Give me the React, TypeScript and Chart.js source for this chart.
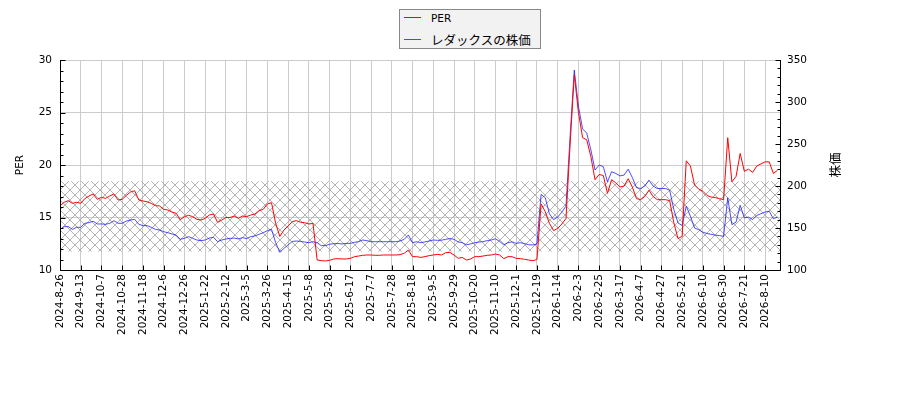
import { useEffect, useRef } from "react";
import { Chart, registerables, type Plugin } from "chart.js";

Chart.register(...registerables);

const LATIN = "'DejaVu Sans', sans-serif";
const CJK = "'Noto Sans CJK JP', 'DejaVu Sans', sans-serif";

// x tick labels, one every POINTS_PER_LABEL data points
const dateLabels = [
  "2024-8-26", "2024-9-13", "2024-10-7", "2024-10-28", "2024-11-18", "2024-12-6", "2024-12-26",
  "2025-1-22", "2025-2-12", "2025-3-5", "2025-3-26", "2025-4-15", "2025-5-8", "2025-5-28",
  "2025-6-17", "2025-7-7", "2025-7-28", "2025-8-18", "2025-9-5", "2025-9-29", "2025-10-20",
  "2025-11-10", "2025-12-1", "2025-12-19", "2026-1-14", "2026-2-3", "2026-2-25", "2026-3-17",
  "2026-4-7", "2026-4-27", "2026-5-21", "2026-6-10", "2026-6-30", "2026-7-21", "2026-8-10"
];
const POINTS_PER_LABEL = 5;

const perValues = [
  16.1, 16.45, 16.6, 16.35, 16.45, 16.35, 16.8, 17.05, 17.24, 16.73,
  16.92, 16.82, 17.05, 17.24, 16.67, 16.73, 17.11, 17.43, 17.55, 16.67,
  16.57, 16.5, 16.35, 16.13, 16.1, 15.78, 15.71, 15.52, 15.4, 14.8,
  15.08, 15.21, 15.08, 14.83, 14.76, 14.92, 15.24, 15.33, 14.54, 14.76,
  15.0, 15.0, 15.14, 14.92, 15.14, 15.08, 15.24, 15.33, 15.65, 15.78,
  16.29, 16.41, 14.44, 13.2, 13.81, 14.19, 14.6, 14.7, 14.55, 14.5,
  14.38, 14.44, 10.95, 10.89, 10.86, 10.92, 11.05, 11.08, 11.05, 11.05,
  11.11, 11.27, 11.33, 11.4, 11.43, 11.43, 11.4, 11.4, 11.43, 11.43,
  11.43, 11.43, 11.46, 11.59, 11.9, 11.27, 11.27, 11.2, 11.27, 11.37,
  11.43, 11.49, 11.43, 11.65, 11.68, 11.43, 11.11, 11.2, 10.95, 11.05,
  11.27, 11.27, 11.33, 11.4, 11.43, 11.52, 11.43, 11.08, 11.27, 11.27,
  11.11, 11.08, 11.02, 10.95, 10.89, 11.0, 16.3, 15.56, 14.44, 13.75,
  13.97, 14.38, 14.9, 22.0, 28.6, 25.0, 22.6, 22.4, 20.8, 18.6,
  19.1, 19.0, 17.3, 18.6, 18.3, 17.9, 18.0, 18.7, 17.9, 16.8,
  16.7, 17.0, 17.6, 17.0, 16.7, 16.7, 16.7, 16.6, 14.5, 13.0,
  13.2, 20.4, 19.9, 18.1, 17.7, 17.5, 17.1, 16.95, 16.9, 16.8,
  16.7, 22.6, 18.4, 18.9, 21.1, 19.4, 19.6, 19.3, 19.9, 20.1,
  20.3, 20.3, 19.2, 19.5
];

const priceValues = [
  148.4, 151.6, 151.6, 148.4, 150.8, 150.8, 155.6, 156.4, 158, 154.8,
  154.8, 154.4, 155.6, 158.7, 155.6, 155.6, 158.3, 159.5, 160.3, 154.4,
  152.8, 152.8, 150.8, 148.4, 147.6, 145.6, 144.4, 142.9, 141.6, 136.5,
  137.7, 139.7, 137.7, 135.7, 134.9, 135.7, 138, 139, 133.7, 135.7,
  136.9, 137.7, 138, 137, 138.5, 137.5, 139.7, 140.5, 142.5, 144.4,
  146.8, 148.4, 132.5, 121, 125.8, 129.8, 134, 134.5, 134, 133.3,
  132.5, 133.7, 132.5, 129, 129, 130.6, 131.3, 131.5, 131, 131.7,
  131.7, 132.9, 133.7, 135.7, 134.9, 133.7, 133.7, 133.7, 133.7, 133.7,
  133.7, 133.7, 134.5, 136.5, 141.7, 132.5, 133.7, 132.5, 133.5, 134.5,
  135.7, 135.3, 135.5, 136.5, 137.5, 136.5, 133.5, 132.5, 130, 131,
  132.5, 133.3, 133.7, 135, 135.7, 137.2, 134, 130, 132.5, 133.5,
  131.7, 132.5, 131.5, 130, 129.8, 131, 190, 186, 167, 160,
  163, 169, 176, 260, 338, 295, 268, 263, 243, 219,
  225, 223, 205, 217, 215, 212, 213, 220, 210, 198,
  197, 200, 207, 200, 197, 197, 197, 195, 172, 156,
  153, 176, 164, 150, 148, 145, 143.5, 142.5, 141.5, 141,
  140, 186, 154, 157, 177, 162, 163, 160, 165, 167,
  169, 170, 161, 163
];

// hatched PER band (low, high)
const perBand = [11.75, 18.45];

const series = [
  { label: "PER", values: perValues, axis: "yPer", color: "#ff0000", font: LATIN },
  { label: "レダックスの株価", values: priceValues, axis: "yPrice", color: "rgba(0,0,255,0.7)", font: CJK }
];

function hatchPattern() {
  const c = document.createElement("canvas");
  c.width = 10;
  c.height = 10;
  const g = c.getContext("2d")!;
  g.strokeStyle = "#a0a0a0";
  g.lineWidth = 0.8;
  g.beginPath();
  g.moveTo(-1, -1);
  g.lineTo(11, 11);
  g.moveTo(11, -1);
  g.lineTo(-1, 11);
  g.stroke();
  return g.createPattern(c, "repeat")!;
}

const hatchBand: Plugin = {
  id: "hatchBand",
  beforeDatasetsDraw(chart) {
    const { ctx, chartArea: a } = chart;
    const y = chart.scales.yPer;
    const top = y.getPixelForValue(perBand[1]);
    const bottom = y.getPixelForValue(perBand[0]);
    ctx.save();
    ctx.fillStyle = hatchPattern();
    ctx.fillRect(a.left, top, a.right - a.left, bottom - top);
    ctx.restore();
  }
};

const crisp = (v: number) => Math.round(v) + 0.5;

const frame: Plugin = {
  id: "frame",
  afterDatasetsDraw(chart) {
    const { ctx, chartArea: a, scales } = chart;
    const x = scales.x;
    const yl = scales.yPer;
    const yr = scales.yPrice;
    const L = crisp(a.left);
    const R = crisp(a.right);
    const B = crisp(a.bottom);
    ctx.save();
    ctx.strokeStyle = "#000";
    ctx.lineWidth = 1;
    ctx.beginPath();
    ctx.moveTo(L, a.top);
    ctx.lineTo(L, B);
    ctx.lineTo(R, B);
    ctx.lineTo(R, a.top);
    x.ticks.forEach((t) => {
      const px = crisp(x.getPixelForValue(t.value));
      ctx.moveTo(px, B);
      ctx.lineTo(px, B - 5);
    });
    for (let v = yl.min; v <= yl.max; v += 1) {
      const py = crisp(yl.getPixelForValue(v));
      ctx.moveTo(L, py);
      ctx.lineTo(L + (v % 5 === 0 ? 5 : 3), py);
    }
    for (let v = yr.min; v <= yr.max; v += 10) {
      const py = crisp(yr.getPixelForValue(v));
      ctx.moveTo(R, py);
      ctx.lineTo(R - (v % 50 === 0 ? 5 : 3), py);
    }
    ctx.stroke();

    // right axis title, rotated counter-clockwise like the left one
    ctx.translate(a.right + 55, (a.top + a.bottom) / 2);
    ctx.rotate(-Math.PI / 2);
    ctx.font = `12.5px ${CJK}`;
    ctx.fillStyle = "#000";
    ctx.textAlign = "center";
    ctx.textBaseline = "middle";
    ctx.fillText("株価", 0, 0);
    ctx.restore();
  }
};

export default function App() {
  const ref = useRef<HTMLCanvasElement | null>(null);

  useEffect(() => {
    if (!ref.current) return;
    const tickFont = { family: LATIN, size: 10.5 };
    const chart = new Chart(ref.current, {
      type: "line",
      data: {
        datasets: series.map((s, k) => ({
          label: s.label,
          data: s.values.map((v, i) => ({ x: i, y: v })),
          yAxisID: s.axis,
          borderColor: s.color,
          backgroundColor: s.color,
          borderWidth: 1,
          pointRadius: 0,
          tension: 0,
          order: k
        }))
      },
      options: {
        responsive: false,
        animation: false,
        events: [],
        layout: { padding: { top: 60, left: 0, right: 0, bottom: 0 } },
        plugins: { legend: { display: false }, tooltip: { enabled: false } },
        scales: {
          x: {
            type: "linear",
            min: 0,
            max: 173.6,
            afterBuildTicks: (axis) => {
              axis.ticks = dateLabels.map((_, k) => ({ value: k * POINTS_PER_LABEL }));
            },
            afterFit: (axis) => {
              axis.height = 130;
            },
            ticks: {
              autoSkip: false,
              minRotation: 90,
              maxRotation: 90,
              padding: 4,
              color: "#000",
              font: tickFont,
              callback: (v) => dateLabels[Math.round(Number(v) / POINTS_PER_LABEL)] ?? ""
            },
            grid: { color: "#cccccc", lineWidth: 1, drawTicks: false },
            border: { display: false }
          },
          yPer: {
            type: "linear",
            position: "left",
            min: 10,
            max: 30,
            afterFit: (axis) => {
              axis.width = 60;
            },
            ticks: { stepSize: 5, padding: 8, color: "#000", font: tickFont },
            grid: { color: "#cccccc", lineWidth: 1, drawTicks: false },
            border: { display: false },
            title: {
              display: true,
              text: "PER",
              color: "#000",
              font: tickFont,
              padding: { top: 14, bottom: 0 }
            }
          },
          yPrice: {
            type: "linear",
            position: "right",
            min: 100,
            max: 350,
            afterFit: (axis) => {
              axis.width = 120;
            },
            ticks: { stepSize: 50, padding: 7, color: "#000", font: tickFont },
            grid: { display: false, drawTicks: false },
            border: { display: false }
          }
        }
      },
      plugins: [hatchBand, frame]
    });
    return () => chart.destroy();
  }, []);

  return (
    <div style={{ position: "fixed", left: 0, top: 0, width: 900, height: 400, background: "#fff" }}>
      <canvas ref={ref} width={900} height={400} style={{ display: "block", width: 900, height: 400 }} />
      <div
        style={{
          position: "absolute",
          left: 399,
          top: 9,
          width: 142,
          height: 40,
          boxSizing: "border-box",
          border: "1px solid #888",
          background: "#f2f2f2"
        }}
      >
        {series.map((s, k) => (
          <div
            key={s.label}
            style={{
              position: "absolute",
              left: 0,
              top: k === 0 ? 0 : 20,
              height: k === 0 ? 15 : 19,
              display: "flex",
              alignItems: "center"
            }}
          >
            <span style={{ display: "inline-block", marginLeft: 4, width: 17, height: 1.5, background: s.color }} />
            <span
              style={{
                marginLeft: 10,
                font: k === 0 ? `10.5px ${LATIN}` : `12.5px ${CJK}`,
                color: "#000",
                whiteSpace: "nowrap"
              }}
            >
              {s.label}
            </span>
          </div>
        ))}
      </div>
    </div>
  );
}
